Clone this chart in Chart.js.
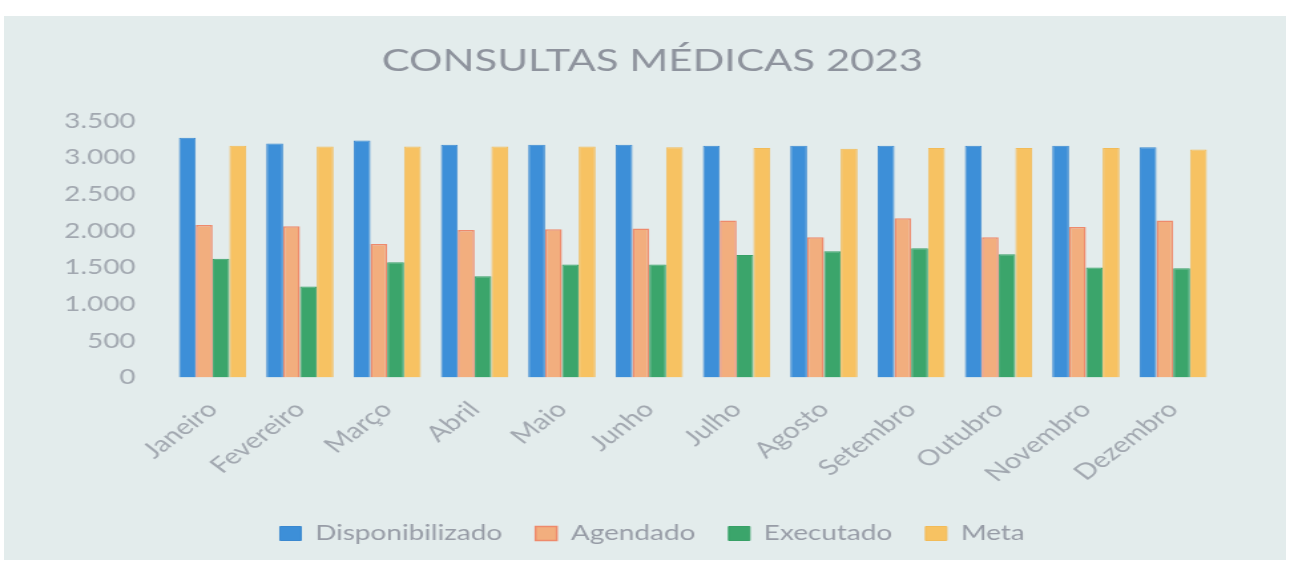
<!DOCTYPE html>
<html>
<head>
<meta charset="utf-8">
<script src="https://cdn.jsdelivr.net/npm/chart.js@4/dist/chart.umd.min.js"></script>
<style>
  html, body { margin: 0; padding: 0; background: #ffffff; overflow: hidden; }
  #painel { position: absolute; left: 4px; top: 16px; width: 1282px; height: 544px; background: #e3ecec; }
  /* a foto original está esticada na horizontal */
  #grafico { position: absolute; left: 0; top: 0; transform: scaleX(1.3299); transform-origin: 0 0; }
</style>
</head>
<body>
<div id="painel"></div>
<canvas id="grafico" width="970" height="566"></canvas>
<script>
const meses = ['Janeiro', 'Fevereiro', 'Março', 'Abril', 'Maio', 'Junho', 'Julho', 'Agosto', 'Setembro', 'Outubro', 'Novembro', 'Dezembro'];
const disponibilizado = [3270, 3190, 3230, 3175, 3175, 3175, 3160, 3160, 3160, 3160, 3160, 3140];
const agendado = [2080, 2060, 1820, 2010, 2020, 2030, 2140, 1910, 2170, 1910, 2050, 2140];
const executado = [1620, 1240, 1570, 1380, 1540, 1540, 1670, 1720, 1760, 1680, 1500, 1490];
const meta = [3160, 3150, 3150, 3150, 3150, 3140, 3130, 3120, 3130, 3130, 3130, 3110];
const ticksY = [0, 500, 1000, 1500, 2000, 2500, 3000, 3500];

const fonte = 'Lato, "Open Sans", sans-serif';

// título e legenda ficam centrados um pouco à direita, como na foto
const centrarTextos = {
  id: 'centrarTextos',
  afterLayout(chart) {
    [chart.titleBlock, chart.legend].forEach(box => {
      if (box) { box.left += 23; box.right += 23; }
    });
  }
};

const dados = {
  labels: meses,
  datasets: [
    { label: 'Disponibilizado', data: disponibilizado, backgroundColor: '#3d8fd8', borderColor: '#3a88d0', borderWidth: 1 },
    { label: 'Agendado', data: agendado, backgroundColor: '#f2ae7e', borderColor: '#ee8a6c', borderWidth: 1.5 },
    { label: 'Executado', data: executado, backgroundColor: '#3ba56b', borderColor: '#37a066', borderWidth: 1 },
    { label: 'Meta', data: meta, backgroundColor: '#f7c262', borderColor: '#f2bb58', borderWidth: 1 }
  ]
};

new Chart(document.getElementById('grafico'), {
  type: 'bar',
  data: dados,
  plugins: [centrarTextos],
  options: {
    responsive: false,
    animation: false,
    layout: { padding: { left: 20, right: 55, top: 42, bottom: 12 } },
    datasets: { bar: { categoryPercentage: 0.77, barPercentage: 1 } },
    plugins: {
      title: {
        display: true,
        text: 'CONSULTAS MÉDICAS 2023',
        color: '#8e939d',
        font: { family: fonte, size: 31.5, weight: 'normal' },
        padding: { top: 0, bottom: 41 }
      },
      legend: {
        position: 'bottom',
        labels: {
          color: '#979ca6',
          font: { family: fonte, size: 21 },
          boxWidth: 16,
          boxHeight: 14,
          padding: 25
        }
      },
      tooltip: { enabled: false }
    },
    scales: {
      x: {
        grid: { display: false },
        border: { display: false },
        ticks: {
          color: '#a2a8b0',
          font: { family: fonte, size: 22 },
          minRotation: 45,
          maxRotation: 45,
          padding: 11
        }
      },
      y: {
        min: 0,
        max: 3500,
        grid: { display: false },
        border: { display: false },
        afterBuildTicks(axis) { axis.ticks = ticksY.map(v => ({ value: v })); },
        afterFit(axis) { axis.width = 107; },
        ticks: {
          color: '#a2a8b0',
          font: { family: fonte, size: 21 },
          padding: 17,
          callback: v => v.toLocaleString('pt-BR')
        }
      }
    }
  }
});
</script>
</body>
</html>
